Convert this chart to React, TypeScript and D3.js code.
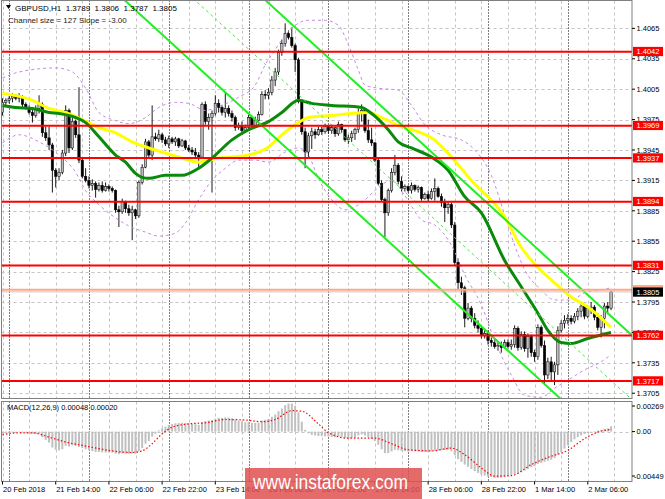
import * as d3 from 'd3';

// GBPUSD H1 candles, bar 0 = 20 Feb 22:00
const opens = [
  1.3982, 1.3992, 1.3994, 1.3996, 1.3998, 1.3996, 1.3997, 1.3990, 1.3987, 1.3982,
  1.3979, 1.3986, 1.3990, 1.3962, 1.3957, 1.3950, 1.3925, 1.3919, 1.3923, 1.3942,
  1.3984, 1.3947, 1.3973, 1.3960, 1.3935, 1.3919, 1.3915, 1.3910, 1.3912, 1.3906,
  1.3910, 1.3905, 1.3909, 1.3907, 1.3905, 1.3886, 1.3884, 1.3894, 1.3887, 1.3883,
  1.3886, 1.3880, 1.3913, 1.3928, 1.3953, 1.3940, 1.3958, 1.3956, 1.3960, 1.3955,
  1.3951, 1.3956, 1.3953, 1.3956, 1.3949, 1.3954, 1.3947, 1.3945, 1.3943, 1.3940,
  1.3938, 1.3990, 1.3973, 1.3977, 1.3981, 1.3991, 1.3987, 1.3982, 1.3986, 1.3981,
  1.3977, 1.3967, 1.3969, 1.3964, 1.3967, 1.3977, 1.3969, 1.3974, 1.3980, 1.4000,
  1.3999, 1.4002, 1.4014, 1.4022, 1.4041, 1.4050, 1.4060, 1.4056, 1.4048, 1.4034,
  1.3993, 1.3963, 1.3943, 1.3959, 1.3963, 1.3960, 1.3965, 1.3963, 1.3968, 1.3964,
  1.3967, 1.3961, 1.3970, 1.3965, 1.3955, 1.3957, 1.3961, 1.3965, 1.3982, 1.3984,
  1.3964, 1.3955, 1.3952, 1.3935, 1.3912, 1.3896, 1.3883, 1.3905, 1.3923, 1.3930,
  1.3914, 1.3907, 1.3909, 1.3905, 1.3910, 1.3906, 1.3908, 1.3897, 1.3901, 1.3897,
  1.3904, 1.3907, 1.3899, 1.3893, 1.3888, 1.3891, 1.3871, 1.3834, 1.3814, 1.3809,
  1.3779, 1.3789, 1.3779, 1.3772, 1.3769, 1.3762, 1.3764, 1.3757, 1.3755, 1.3751,
  1.3752, 1.3750, 1.3755, 1.3751, 1.3753, 1.3769, 1.3750, 1.3763, 1.3749, 1.3761,
  1.3745, 1.3741, 1.3770, 1.3752, 1.3723, 1.3736, 1.3726, 1.3733, 1.3767, 1.3774,
  1.3777, 1.3779, 1.3776, 1.3781, 1.3786, 1.3791, 1.3781, 1.3789, 1.3790, 1.3780,
  1.3770, 1.3779, 1.3791, 1.3789,
];
const highs = [
  1.3996, 1.3996, 1.3998, 1.4001, 1.4000, 1.4001, 1.3999, 1.3992, 1.3989, 1.3985,
  1.3989, 1.3999, 1.3992, 1.3968, 1.3968, 1.3952, 1.3927, 1.3927, 1.3945, 1.3989,
  1.3986, 1.3977, 1.3975, 1.4007, 1.3937, 1.3927, 1.3919, 1.3916, 1.3914, 1.3913,
  1.3914, 1.3913, 1.3911, 1.3909, 1.3906, 1.3890, 1.3897, 1.3895, 1.3891, 1.3890,
  1.3887, 1.3915, 1.3931, 1.3956, 1.3955, 1.3989, 1.3962, 1.3965, 1.3962, 1.3958,
  1.3959, 1.3958, 1.3958, 1.3957, 1.3956, 1.3955, 1.3950, 1.3948, 1.3947, 1.3943,
  1.3992, 1.3993, 1.3981, 1.3984, 1.3999, 1.3995, 1.3989, 1.4002, 1.3989, 1.3984,
  1.3979, 1.3972, 1.3973, 1.3970, 1.3980, 1.3979, 1.3978, 1.3983, 1.4003, 1.4004,
  1.4006, 1.4018, 1.4026, 1.4044, 1.4054, 1.4070, 1.4063, 1.4066, 1.4050, 1.4036,
  1.3995, 1.3967, 1.3962, 1.3967, 1.3966, 1.3968, 1.3968, 1.3971, 1.3969, 1.3970,
  1.3968, 1.3973, 1.3971, 1.3966, 1.3960, 1.3964, 1.3967, 1.3986, 1.3990, 1.3986,
  1.3975, 1.3967, 1.3953, 1.3938, 1.3915, 1.3898, 1.3907, 1.3927, 1.3940, 1.3932,
  1.3919, 1.3911, 1.3910, 1.3913, 1.3911, 1.3910, 1.3909, 1.3903, 1.3905, 1.3907,
  1.3917, 1.3909, 1.3902, 1.3897, 1.3894, 1.3893, 1.3874, 1.3838, 1.3820, 1.3811,
  1.3794, 1.3791, 1.3784, 1.3777, 1.3772, 1.3768, 1.3767, 1.3760, 1.3759, 1.3756,
  1.3756, 1.3758, 1.3758, 1.3758, 1.3772, 1.3771, 1.3766, 1.3766, 1.3764, 1.3763,
  1.3748, 1.3773, 1.3772, 1.3757, 1.3740, 1.3741, 1.3736, 1.3771, 1.3777, 1.3782,
  1.3783, 1.3782, 1.3784, 1.3789, 1.3794, 1.3792, 1.3792, 1.3795, 1.3792, 1.3784,
  1.3782, 1.3794, 1.3795, 1.3806,
];
const lows = [
  1.3979, 1.3989, 1.3991, 1.3992, 1.3994, 1.3992, 1.3987, 1.3985, 1.3980, 1.3972,
  1.3977, 1.3981, 1.3958, 1.3954, 1.3945, 1.3903, 1.3908, 1.3915, 1.3921, 1.3939,
  1.3942, 1.3945, 1.3957, 1.3932, 1.3917, 1.3913, 1.3907, 1.3905, 1.3898, 1.3904,
  1.3903, 1.3904, 1.3904, 1.3903, 1.3883, 1.3869, 1.3882, 1.3883, 1.3880, 1.3856,
  1.3877, 1.3878, 1.3911, 1.3927, 1.3937, 1.3935, 1.3954, 1.3953, 1.3952, 1.3949,
  1.3947, 1.3951, 1.3949, 1.3947, 1.3948, 1.3945, 1.3943, 1.3940, 1.3937, 1.3928,
  1.3937, 1.3970, 1.3965, 1.3903, 1.3979, 1.3982, 1.3979, 1.3977, 1.3978, 1.3973,
  1.3964, 1.3965, 1.3962, 1.3963, 1.3964, 1.3967, 1.3967, 1.3971, 1.3979, 1.3995,
  1.3995, 1.3999, 1.4008, 1.4019, 1.4038, 1.4047, 1.4054, 1.4046, 1.4022, 1.3991,
  1.3960, 1.3927, 1.3938, 1.3946, 1.3956, 1.3959, 1.3960, 1.3961, 1.3961, 1.3961,
  1.3958, 1.3959, 1.3962, 1.3953, 1.3951, 1.3953, 1.3955, 1.3962, 1.3973, 1.3962,
  1.3952, 1.3949, 1.3933, 1.3910, 1.3894, 1.3859, 1.3880, 1.3903, 1.3920, 1.3911,
  1.3904, 1.3904, 1.3903, 1.3902, 1.3904, 1.3903, 1.3895, 1.3896, 1.3894, 1.3896,
  1.3895, 1.3898, 1.3889, 1.3874, 1.3882, 1.3868, 1.3831, 1.3807, 1.3802, 1.3770,
  1.3777, 1.3775, 1.3769, 1.3765, 1.3759, 1.3759, 1.3753, 1.3751, 1.3749, 1.3747,
  1.3745, 1.3749, 1.3749, 1.3748, 1.3750, 1.3747, 1.3748, 1.3746, 1.3740, 1.3741,
  1.3736, 1.3738, 1.3750, 1.3713, 1.3719, 1.3718, 1.3713, 1.3723, 1.3765, 1.3769,
  1.3773, 1.3773, 1.3774, 1.3777, 1.3780, 1.3778, 1.3779, 1.3783, 1.3777, 1.3767,
  1.3760, 1.3769, 1.3783, 1.3787,
];
const closes = [
  1.3992, 1.3994, 1.3996, 1.3998, 1.3996, 1.3997, 1.3990, 1.3987, 1.3982, 1.3979,
  1.3986, 1.3990, 1.3962, 1.3957, 1.3950, 1.3925, 1.3919, 1.3923, 1.3942, 1.3984,
  1.3947, 1.3973, 1.3960, 1.3935, 1.3919, 1.3915, 1.3910, 1.3912, 1.3906, 1.3910,
  1.3905, 1.3909, 1.3907, 1.3905, 1.3886, 1.3884, 1.3894, 1.3887, 1.3883, 1.3886,
  1.3880, 1.3913, 1.3928, 1.3953, 1.3940, 1.3958, 1.3956, 1.3960, 1.3955, 1.3951,
  1.3956, 1.3953, 1.3956, 1.3949, 1.3954, 1.3947, 1.3945, 1.3943, 1.3940, 1.3938,
  1.3990, 1.3973, 1.3977, 1.3981, 1.3991, 1.3987, 1.3982, 1.3986, 1.3981, 1.3977,
  1.3967, 1.3969, 1.3964, 1.3967, 1.3977, 1.3969, 1.3974, 1.3980, 1.4000, 1.3999,
  1.4002, 1.4014, 1.4022, 1.4041, 1.4050, 1.4060, 1.4056, 1.4048, 1.4034, 1.3993,
  1.3963, 1.3943, 1.3959, 1.3963, 1.3960, 1.3965, 1.3963, 1.3968, 1.3964, 1.3967,
  1.3961, 1.3970, 1.3965, 1.3955, 1.3957, 1.3961, 1.3965, 1.3982, 1.3984, 1.3964,
  1.3955, 1.3952, 1.3935, 1.3912, 1.3896, 1.3883, 1.3905, 1.3923, 1.3930, 1.3914,
  1.3907, 1.3909, 1.3905, 1.3910, 1.3906, 1.3908, 1.3897, 1.3901, 1.3897, 1.3904,
  1.3907, 1.3899, 1.3893, 1.3888, 1.3891, 1.3871, 1.3834, 1.3814, 1.3809, 1.3779,
  1.3789, 1.3779, 1.3772, 1.3769, 1.3762, 1.3764, 1.3757, 1.3755, 1.3751, 1.3752,
  1.3750, 1.3755, 1.3751, 1.3753, 1.3769, 1.3750, 1.3763, 1.3749, 1.3761, 1.3745,
  1.3741, 1.3770, 1.3752, 1.3723, 1.3736, 1.3726, 1.3733, 1.3767, 1.3774, 1.3777,
  1.3779, 1.3776, 1.3781, 1.3786, 1.3791, 1.3781, 1.3789, 1.3790, 1.3780, 1.3770,
  1.3779, 1.3791, 1.3789, 1.3805,
];

// moving averages at these bars
const yellowBars = [0, 9, 14, 19, 24, 29, 34, 39, 44, 49, 54, 59, 65, 69, 74, 80, 84, 89, 92, 99, 110, 114, 120, 125, 129, 135, 141, 151, 156, 161, 166, 171, 176, 183];
const yellowVals = [1.4001, 1.3994, 1.3986, 1.3982, 1.3975, 1.3967, 1.3962, 1.3953, 1.3947, 1.3942, 1.3937, 1.3933, 1.3937, 1.3938, 1.3940, 1.3948, 1.3960, 1.3972, 1.3977, 1.3979, 1.3982, 1.3977, 1.3968, 1.3963, 1.3957, 1.3938, 1.3915, 1.3879, 1.3849, 1.3829, 1.3814, 1.3800, 1.3790, 1.3770];
const greenBars = [0, 4, 9, 14, 17, 22, 25, 29, 34, 37, 40, 42, 44, 49, 54, 59, 63, 69, 74, 80, 84, 89, 93, 99, 108, 111, 116, 119, 123, 129, 134, 139, 144, 151, 156, 161, 164, 168, 171, 176, 183];
const greenVals = [1.3989, 1.3987, 1.3986, 1.3982, 1.3981, 1.3977, 1.3972, 1.3958, 1.3940, 1.3933, 1.3922, 1.3918, 1.3917, 1.3920, 1.3920, 1.3927, 1.3937, 1.3955, 1.3965, 1.3973, 1.3982, 1.3994, 1.3991, 1.3989, 1.3987, 1.3981, 1.3965, 1.3953, 1.3947, 1.3938, 1.3925, 1.3899, 1.3883, 1.3836, 1.3810, 1.3784, 1.3767, 1.3755, 1.3754, 1.3759, 1.3765];

// envelope bands (dashed violet)
const bandUpBars = [0, 5, 16, 21, 25, 29, 34, 38, 43, 47, 52, 56, 61, 65, 71, 76, 79, 82, 85, 88, 92, 97, 101, 104, 107, 109, 113, 119, 123, 127, 132, 138, 142, 147, 151, 154, 157, 162, 166, 171, 175, 180, 183];
const bandUpVals = [1.4016, 1.4022, 1.4026, 1.4022, 1.4006, 1.3982, 1.3974, 1.3971, 1.3977, 1.3987, 1.3992, 1.3991, 1.3984, 1.3988, 1.3997, 1.4009, 1.4029, 1.4044, 1.4058, 1.4068, 1.4073, 1.4073, 1.4068, 1.4049, 1.4024, 1.4009, 1.4006, 1.4004, 1.3989, 1.3970, 1.3960, 1.3955, 1.3945, 1.3920, 1.3881, 1.3851, 1.3827, 1.3807, 1.3797, 1.3797, 1.3804, 1.3807, 1.3809];
const bandLoBars = [0, 5, 11, 17, 22, 25, 29, 34, 38, 43, 47, 52, 55, 59, 63, 67, 71, 76, 80, 85, 89, 92, 95, 99, 103, 108, 112, 117, 121, 126, 130, 135, 139, 144, 148, 153, 157, 162, 166, 171, 175, 180, 183];
const bandLoVals = [1.3952, 1.3960, 1.3953, 1.3940, 1.3923, 1.3905, 1.3891, 1.3878, 1.3870, 1.3864, 1.3860, 1.3863, 1.3873, 1.3896, 1.3915, 1.3927, 1.3935, 1.3935, 1.3933, 1.3943, 1.3947, 1.3940, 1.3917, 1.3896, 1.3886, 1.3893, 1.3905, 1.3915, 1.3900, 1.3876, 1.3871, 1.3851, 1.3822, 1.3792, 1.3757, 1.3723, 1.3703, 1.3701, 1.3710, 1.3720, 1.3728, 1.3736, 1.3743];

// regression channel
const channelAnchorBar = 168;
const channelAnchorPrice = 1.3826;
const channelSlope = -0.0003;
const channelSize = 0.0127;

const levels = [1.4042, 1.3969, 1.3937, 1.3894, 1.3831, 1.3762, 1.3717];
const bidPrice = 1.3805;
const askPrice = 1.3807;

const priceTicks = [1.4065, 1.4035, 1.4005, 1.3975, 1.3945, 1.3915, 1.3885, 1.3855, 1.3825, 1.3795, 1.3765, 1.3735, 1.3705];
const timeLabelBars = [0, 16, 32, 48, 64, 80, 96, 112, 128, 144, 160, 176];
const timeLabels = ['20 Feb 2018', '21 Feb 14:00', '22 Feb 06:00', '22 Feb 22:00', '23 Feb 14:00', '26 Feb 06:00', '26 Feb 22:00', '27 Feb 14:00', '28 Feb 06:00', '28 Feb 22:00', '1 Mar 14:00', '2 Mar 06:00'];
const daySeparators = [2, 26, 50, 74, 98, 122, 146, 170];

// MACD(12,26,9)
const macdHist = [
  -0.00020, -0.00015, -0.00010, -0.00008, -0.00005, -0.00004, -0.00006, -0.00010, -0.00014, -0.00020,
  -0.00022, -0.00020, -0.00050, -0.00075, -0.00100, -0.00145, -0.00165, -0.00170, -0.00160, -0.00130,
  -0.00135, -0.00125, -0.00130, -0.00140, -0.00150, -0.00160, -0.00170, -0.00178, -0.00185, -0.00185,
  -0.00188, -0.00190, -0.00190, -0.00190, -0.00200, -0.00205, -0.00200, -0.00200, -0.00202, -0.00200,
  -0.00200, -0.00180, -0.00150, -0.00110, -0.00085, -0.00045, -0.00020, 0.00010, 0.00030, 0.00045,
  0.00060, 0.00070, 0.00075, 0.00078, 0.00080, 0.00078, 0.00075, 0.00072, 0.00068, 0.00062,
  0.00085, 0.00095, 0.00100, 0.00105, 0.00118, 0.00125, 0.00125, 0.00130, 0.00128, 0.00122,
  0.00110, 0.00100, 0.00092, 0.00085, 0.00088, 0.00080, 0.00078, 0.00080, 0.00100, 0.00108,
  0.00115, 0.00135, 0.00155, 0.00185, 0.00210, 0.00240, 0.00255, 0.00255, 0.00235, 0.00175,
  0.00090, 0.00015, -0.00015, -0.00030, -0.00035, -0.00040, -0.00042, -0.00043, -0.00045, -0.00048,
  -0.00050, -0.00048, -0.00050, -0.00058, -0.00062, -0.00060, -0.00055, -0.00035, -0.00025, -0.00035,
  -0.00050, -0.00065, -0.00085, -0.00120, -0.00160, -0.00195, -0.00195, -0.00180, -0.00165, -0.00170,
  -0.00175, -0.00178, -0.00180, -0.00178, -0.00180, -0.00180, -0.00185, -0.00185, -0.00185, -0.00180,
  -0.00175, -0.00172, -0.00170, -0.00168, -0.00165, -0.00180, -0.00215, -0.00250, -0.00275, -0.00300,
  -0.00320, -0.00340, -0.00360, -0.00375, -0.00390, -0.00400, -0.00410, -0.00415, -0.00420, -0.00420,
  -0.00418, -0.00415, -0.00405, -0.00395, -0.00385, -0.00380, -0.00370, -0.00355, -0.00340, -0.00325,
  -0.00315, -0.00295, -0.00285, -0.00275, -0.00265, -0.00255, -0.00240, -0.00210, -0.00185, -0.00155,
  -0.00125, -0.00095, -0.00070, -0.00050, -0.00035, -0.00022, -0.00012, -0.00002, 0.00005, 0.00010,
  0.00015, 0.00022, 0.00030, 0.00048,
];
const signalBars = [0, 4, 9, 14, 19, 24, 29, 34, 39, 42, 45, 48, 51, 56, 61, 67, 73, 78, 82, 87, 90, 95, 98, 104, 112, 117, 122, 129, 135, 139, 144, 148, 153, 159, 164, 170, 175, 179, 183];
const signalVals = [-0.00030, -0.00012, -0.00012, -0.00050, -0.00095, -0.00125, -0.00155, -0.00180, -0.00190, -0.00175, -0.00110, -0.00020, 0.00040, 0.00070, 0.00080, 0.00110, 0.00105, 0.00090, 0.00110, 0.00190, 0.00185, 0.00070, -0.00010, -0.00060, -0.00060, -0.00110, -0.00165, -0.00175, -0.00150, -0.00210, -0.00330, -0.00405, -0.00400, -0.00300, -0.00235, -0.00170, -0.00065, -0.00005, 0.00020];
const macdTicks = [0.00269, 0.0, -0.00449];
const macdTickLabels = ['0.00269', '0.00', '-0.00449'];

const FONT = 'Liberation Sans, Arial, sans-serif';

export default function App() {
  const W = 665;
  const H = 499;
  const left = 1.5;
  const right = 632;
  const mainTop = 0.5;
  const mainBottom = 398.5;
  const macdTop = 401.5;
  const macdBottom = 481.5;

  const x = d3.scaleLinear().domain([0, 189.3]).range([2.5, 632]);
  const y = d3.scaleLinear().domain([1.37, 1.4093]).range([398.3, 0]);
  const ym = d3.scaleLinear().domain([-0.00449, 0.00269]).range([481, 402]);

  const pts = (bars: number[], vals: number[]) => bars.map((b, i) => [b, vals[i]] as [number, number]);
  const curve = d3.line<[number, number]>().x(d => x(d[0])).y(d => y(d[1])).curve(d3.curveMonotoneX);
  const macdLine = d3.line<[number, number]>().x(d => x(d[0])).y(d => ym(d[1])).curve(d3.curveMonotoneX);

  const channelAt = (b: number, off: number) => channelAnchorPrice + (b - channelAnchorBar) * channelSlope - off;
  const channelPath = (off: number) => d3.line<number>().x(b => x(b)).y(b => y(channelAt(b, off)))([0, 192]);

  const gridBars = d3.range(0, 190, 8);
  const gridColor = '#c4c4c4';

  return (
    <svg width={W} height={H} style={{ position: 'absolute', left: 0, top: 0, background: '#fff' }} fontFamily={FONT}>
      <defs>
        <clipPath id="mainClip"><rect x={left} y={mainTop} width={right - left} height={mainBottom - mainTop} /></clipPath>
        <clipPath id="macdClip"><rect x={left} y={macdTop} width={right - left} height={macdBottom - macdTop} /></clipPath>
      </defs>
      <rect width={W} height={H} fill="#fff" />

      {/* grid */}
      <g stroke={gridColor} strokeWidth={1} strokeDasharray="3,3">
        {priceTicks.map(p => <line key={p} x1={left} x2={right} y1={Math.round(y(p)) + 0.5} y2={Math.round(y(p)) + 0.5} />)}
        {gridBars.map(b => (
          <g key={b}>
            <line x1={Math.round(x(b)) + 0.5} x2={Math.round(x(b)) + 0.5} y1={mainTop} y2={mainBottom} />
            <line x1={Math.round(x(b)) + 0.5} x2={Math.round(x(b)) + 0.5} y1={macdTop} y2={macdBottom} />
          </g>
        ))}
        <line x1={left} x2={right} y1={Math.round(ym(0)) + 0.5} y2={Math.round(ym(0)) + 0.5} />
      </g>
      <g stroke="#000" strokeWidth={1} strokeDasharray="1,2">
        {daySeparators.map(b => (
          <g key={b}>
            <line x1={Math.round(x(b)) + 0.5} x2={Math.round(x(b)) + 0.5} y1={mainTop} y2={mainBottom} />
            <line x1={Math.round(x(b)) + 0.5} x2={Math.round(x(b)) + 0.5} y1={macdTop} y2={macdBottom} />
          </g>
        ))}
      </g>

      <g clipPath="url(#mainClip)">
        {/* candles */}
        {closes.map((c, i) => {
          const o = opens[i];
          const cx = x(i);
          const hi = Math.max(highs[i], o, c);
          const lo = Math.min(lows[i], o, c);
          const top = y(Math.max(o, c));
          const h = Math.max(0.8, y(Math.min(o, c)) - top);
          const bull = c >= o;
          return (
            <g key={i}>
              <line x1={cx} x2={cx} y1={y(hi)} y2={y(lo)} stroke="#000" strokeWidth={0.9} />
              <rect x={cx - 1.2} y={top} width={2.4} height={h} fill={bull ? '#bdbdbd' : '#000'} stroke="#000" strokeWidth={0.5} />
            </g>
          );
        })}

        {/* bands */}
        <path d={curve(pts(bandUpBars, bandUpVals)) ?? ''} fill="none" stroke="#c58be0" strokeWidth={1} strokeDasharray="3,3" />
        <path d={curve(pts(bandLoBars, bandLoVals)) ?? ''} fill="none" stroke="#c58be0" strokeWidth={1} strokeDasharray="3,3" />

        {/* moving averages */}
        <path d={curve(pts(yellowBars, yellowVals)) ?? ''} fill="none" stroke="#ffff00" strokeWidth={3} />
        <path d={curve(pts(greenBars, greenVals)) ?? ''} fill="none" stroke="#0a8a0a" strokeWidth={3} />

        {/* channel */}
        <path d={channelPath(0) ?? ''} fill="none" stroke="#22ee22" strokeWidth={2} />
        <path d={channelPath(channelSize / 2) ?? ''} fill="none" stroke="#55e055" strokeWidth={1} strokeDasharray="3,3" />
        <path d={channelPath(channelSize) ?? ''} fill="none" stroke="#22ee22" strokeWidth={2} />

        {/* levels */}
        {levels.map(l => <line key={l} x1={left} x2={right} y1={y(l)} y2={y(l)} stroke="#ff0000" strokeWidth={2} />)}
        <line x1={left} x2={right} y1={y(askPrice)} y2={y(askPrice)} stroke="#ffa888" strokeWidth={2} />
        <line x1={left} x2={right} y1={y(bidPrice)} y2={y(bidPrice)} stroke="#c8c8c8" strokeWidth={1} />
      </g>

      {/* MACD panel */}
      <g clipPath="url(#macdClip)">
        {macdHist.map((v, i) => (
          <rect key={i} x={x(i) - 1} width={2} y={Math.min(ym(v), ym(0))} height={Math.abs(ym(v) - ym(0))} fill="#c0c0c0" />
        ))}
        <path d={macdLine(pts(signalBars, signalVals)) ?? ''} fill="none" stroke="#ff0000" strokeWidth={1.2} strokeDasharray="1.5,2" />
      </g>

      {/* frames */}
      <rect x={left} y={mainTop} width={right - left} height={mainBottom - mainTop} fill="none" stroke="#808080" strokeWidth={1} />
      <rect x={left} y={macdTop} width={right - left} height={macdBottom - macdTop} fill="none" stroke="#808080" strokeWidth={1} />

      {/* price axis */}
      <g fontSize={7.5} fill="#000">
        {priceTicks.map(p => (
          <g key={p}>
            <line x1={right} x2={right + 3} y1={y(p)} y2={y(p)} stroke="#000" />
            <text x={636.5} y={y(p) + 2.7}>{p.toFixed(4)}</text>
          </g>
        ))}
      </g>
      <g fontSize={7.5}>
        {levels.map(l => (
          <g key={l}>
            <rect x={633} y={y(l) - 4.8} width={30} height={9.2} fill="#ff0000" />
            <text x={636.5} y={y(l) + 2.7} fill="#fff">{l.toFixed(4)}</text>
          </g>
        ))}
        <rect x={633} y={y(askPrice) - 4.8} width={30} height={9.2} fill="#ffa888" />
        <rect x={633} y={y(bidPrice) - 4.4} width={30} height={9.2} fill="#000" />
        <text x={636.5} y={y(bidPrice) + 3.1} fill="#fff">{bidPrice.toFixed(4)}</text>
      </g>

      {/* MACD axis */}
      <g fontSize={7.5} fill="#000">
        {macdTicks.map((v, i) => {
          const ty = Math.min(Math.max(ym(v), 406), 476);
          return (
            <g key={v}>
              <line x1={right} x2={right + 3} y1={ty} y2={ty} stroke="#000" />
              <text x={i === 2 ? 634 : 636.5} y={ty + 2.7}>{macdTickLabels[i]}</text>
            </g>
          );
        })}
      </g>

      {/* time axis */}
      <g fontSize={7.5} fill="#000">
        {timeLabelBars.map((b, i) => (
          <g key={b}>
            <line x1={x(b)} x2={x(b)} y1={macdBottom} y2={macdBottom + 3} stroke="#000" />
            <text x={x(b) + 0.5} y={492}>{timeLabels[i]}</text>
          </g>
        ))}
      </g>

      {/* captions */}
      <polygon points="6,5 11,5 8.5,9" fill="#000" />
      <text x={15} y={10.5} fontSize={8} fill="#000" xmlSpace="preserve">{'GBPUSD,H1  1.3789  1.3806  1.3787  1.3805'}</text>
      <text x={8} y={22.5} fontSize={8} fill="#222">Channel size = 127 Slope = -3.00</text>
      <text x={7} y={410} fontSize={7.5} fill="#000">MACD(12,26,9) 0.00048 0.00020</text>

      {/* watermark */}
      <rect x={245} y={468} width={177} height={31} fill="#e05050" opacity={0.85} />
      <text x={253} y={489} fontSize={21} fill="#fff" textLength={155} lengthAdjust="spacingAndGlyphs">www.instaforex.com</text>
    </svg>
  );
}
